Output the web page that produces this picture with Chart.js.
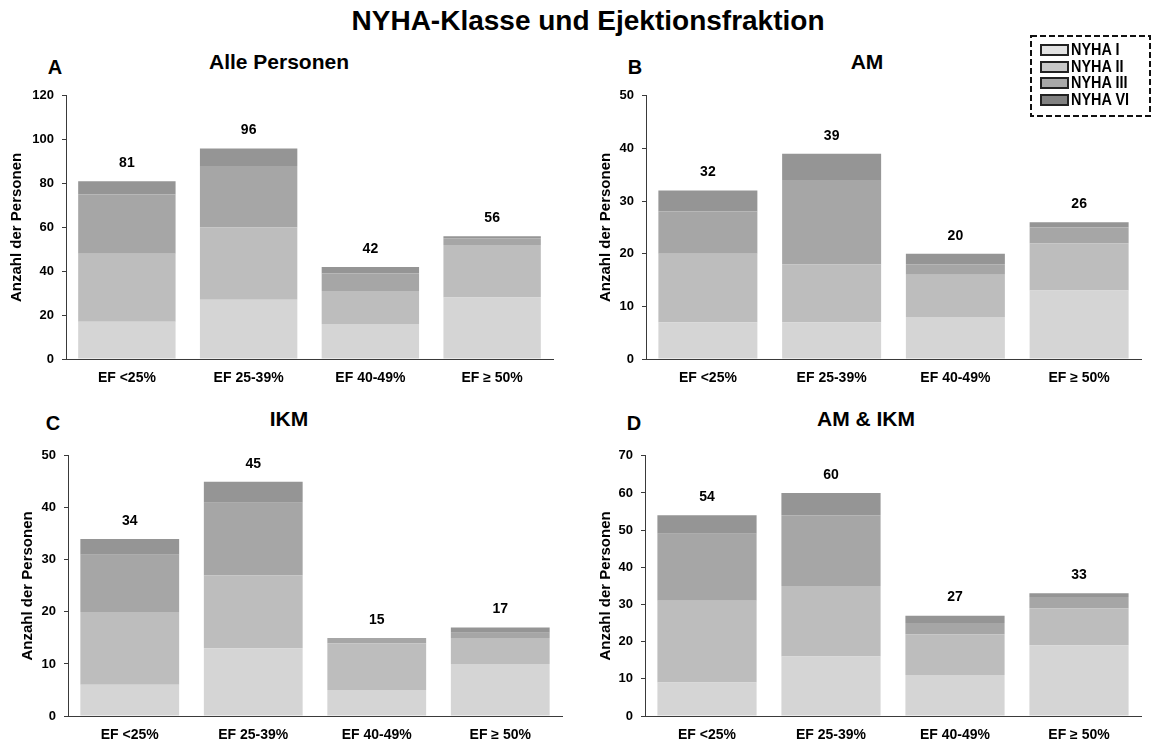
<!DOCTYPE html>
<html lang="de">
<head>
<meta charset="utf-8">
<title>NYHA-Klasse und Ejektionsfraktion</title>
<script src="https://cdn.jsdelivr.net/npm/chart.js@4.4.1/dist/chart.umd.min.js"></script>
<style>
  html, body { margin: 0; padding: 0; background: #fff; }
  #page { position: relative; width: 1152px; height: 742px; overflow: hidden; background: #fff;
          font-family: 'Liberation Sans', Arial, sans-serif; color: #000; }
  .txt { position: absolute; white-space: nowrap; font-weight: bold; transform: translate(-50%, -50%); line-height: 1.15; }
  #mainTitle { font-size: 28px; }
  .letter { font-size: 20px; }
  .ptitle { font-size: 21px; }
  canvas { position: absolute; }
  #legend { position: absolute; left: 1030px; top: 35px; width: 121px; height: 82px; }
  #legend svg { position: absolute; left: 0; top: 0; }
  .lrow { position: absolute; left: 10px; height: 16px; display: flex; align-items: center; }
  .sw { box-sizing: border-box; width: 29px; height: 12px; border: 2px solid #222; margin-right: 2px; }
  .lname { display: inline-block; font-size: 17px; font-weight: bold; line-height: 16px;
           transform: scaleX(0.85); transform-origin: left center; }
</style>
</head>
<body>
<div id="page">
  <div id="mainTitle" class="txt" style="left:588px; top:21px;">NYHA-Klasse und Ejektionsfraktion</div>

  <div class="txt letter" style="left:55px; top:67px;">A</div>
  <div class="txt ptitle" style="left:279px; top:62px;">Alle Personen</div>
  <div class="txt letter" style="left:635px; top:67px;">B</div>
  <div class="txt ptitle" style="left:867px; top:62px;">AM</div>
  <div class="txt letter" style="left:53px; top:423px;">C</div>
  <div class="txt ptitle" style="left:289px; top:419px;">IKM</div>
  <div class="txt letter" style="left:634px; top:423px;">D</div>
  <div class="txt ptitle" style="left:866px; top:419px;">AM &amp; IKM</div>

  <canvas id="chartA"></canvas>
  <canvas id="chartB"></canvas>
  <canvas id="chartC"></canvas>
  <canvas id="chartD"></canvas>

  <div id="legend">
    <svg width="121" height="82"><rect x="1" y="1" width="119" height="80" fill="none" stroke="#111" stroke-width="2" stroke-dasharray="6 3"/></svg>
  </div>
</div>

<script>
// Ejection-fraction groups on the x axis
const categories = ['EF <25%', 'EF 25-39%', 'EF 40-49%', 'EF \u2265 50%'];
// NYHA classes, stacked from bottom to top
const classes = ['NYHA I', 'NYHA II', 'NYHA III', 'NYHA VI'];

// A: Alle Personen
const alleI   = [17, 27, 16, 28];
const alleII  = [31, 33, 15, 24];
const alleIII = [27, 28,  8,  3];
const alleIV  = [ 6,  8,  3,  1];

// B: AM
const amI   = [ 7,  7,  8, 13];
const amII  = [13, 11,  8,  9];
const amIII = [ 8, 16,  2,  3];
const amIV  = [ 4,  5,  2,  1];

// C: IKM
const ikmI   = [ 6, 13,  5, 10];
const ikmII  = [14, 14,  9,  5];
const ikmIII = [11, 14,  1,  1];
const ikmIV  = [ 3,  4,  0,  1];

// D: AM & IKM
const beideI   = [ 9, 16, 11, 19];
const beideII  = [22, 19, 11, 10];
const beideIII = [18, 19,  3,  3];
const beideIV  = [ 5,  6,  2,  1];

// y-axis ranges per panel: [max, step]
const yRangeA = [120, 20];
const yRangeB = [50, 10];
const yRangeC = [50, 10];
const yRangeD = [70, 10];

const barColors = ['#d5d5d5', '#bdbdbd', '#a6a6a6', '#959595'];
const legendColors = ['#e2e2e2', '#c8c8c8', '#a8a8a8', '#818181'];
const FONT = "'Liberation Sans', Arial, sans-serif";
const AXIS = '#3a3a3a';

// Legend entries
const legendEl = document.getElementById('legend');
const rowCenters = [15, 31.5, 48, 64.5];
classes.forEach((name, i) => {
  const row = document.createElement('div');
  row.className = 'lrow';
  row.style.top = (rowCenters[i] - 8) + 'px';
  const sw = document.createElement('div');
  sw.className = 'sw';
  sw.style.background = legendColors[i];
  const txt = document.createElement('span');
  txt.className = 'lname';
  txt.textContent = name;
  row.appendChild(sw);
  row.appendChild(txt);
  legendEl.appendChild(row);
});

// Total of each stack written above the bar
const totalsPlugin = {
  id: 'stackTotals',
  afterDatasetsDraw(chart) {
    const { ctx, scales: { x, y } } = chart;
    ctx.save();
    ctx.font = 'bold 14px ' + FONT;
    ctx.fillStyle = '#000';
    ctx.textAlign = 'center';
    ctx.textBaseline = 'middle';
    chart.data.labels.forEach((_, i) => {
      const total = chart.data.datasets.reduce((s, ds) => s + ds.data[i], 0);
      ctx.fillText(String(total), x.getPixelForValue(i), y.getPixelForValue(total) - 18);
    });
    ctx.restore();
  }
};

function makePanel(id, left, top, w, h, area, range, series, titlePad) {
  const canvas = document.getElementById(id);
  canvas.width = w;
  canvas.height = h;
  canvas.style.left = left + 'px';
  canvas.style.top = top + 'px';
  canvas.style.width = w + 'px';
  canvas.style.height = h + 'px';
  return new Chart(canvas, {
    type: 'bar',
    data: {
      labels: categories,
      datasets: series.map((d, i) => ({
        label: classes[i],
        data: d,
        backgroundColor: barColors[i],
        borderWidth: 0,
        barPercentage: 0.8,
        categoryPercentage: 1
      }))
    },
    options: {
      responsive: false,
      animation: false,
      devicePixelRatio: 1,
      layout: { padding: { left: 0, top: area.top, right: w - area.right, bottom: 0 } },
      plugins: { legend: { display: false }, tooltip: { enabled: false }, title: { display: false } },
      scales: {
        x: {
          stacked: true,
          grid: { display: false, drawTicks: false },
          border: { display: true, color: AXIS, width: 1 },
          ticks: { color: '#000', font: { family: FONT, size: 14, weight: 'bold' }, padding: 11, maxRotation: 0, autoSkip: false },
          afterFit(s) { s.height = h - area.bottom; }
        },
        y: {
          stacked: true,
          min: 0,
          max: range[0],
          ticks: { stepSize: range[1], color: '#000', font: { family: FONT, size: 13, weight: 'bold' }, padding: 8 },
          grid: { display: true, drawOnChartArea: false, drawTicks: true, tickLength: 4, color: AXIS },
          border: { display: true, color: AXIS, width: 1 },
          title: {
            display: true, text: 'Anzahl der Personen', color: '#000',
            font: { family: FONT, size: 15, weight: 'bold' },
            padding: { top: titlePad, bottom: 0 }
          },
          afterFit(s) { s.width = area.left; }
        }
      }
    },
    plugins: [totalsPlugin]
  });
}

makePanel('chartA', 0, 80, 576, 310, { left: 66, right: 553, top: 13, bottom: 279 }, yRangeA,
  [alleI, alleII, alleIII, alleIV], 8);
makePanel('chartB', 576, 80, 576, 310, { left: 70, right: 565, top: 13, bottom: 279 }, yRangeB,
  [amI, amII, amIII, amIV], 21);
makePanel('chartC', 0, 440, 576, 302, { left: 68, right: 562, top: 10, bottom: 276 }, yRangeC,
  [ikmI, ikmII, ikmIII, ikmIV], 19);
makePanel('chartD', 576, 440, 576, 302, { left: 69, right: 565, top: 10, bottom: 276 }, yRangeD,
  [beideI, beideII, beideIII, beideIV], 21);
</script>
</body>
</html>
